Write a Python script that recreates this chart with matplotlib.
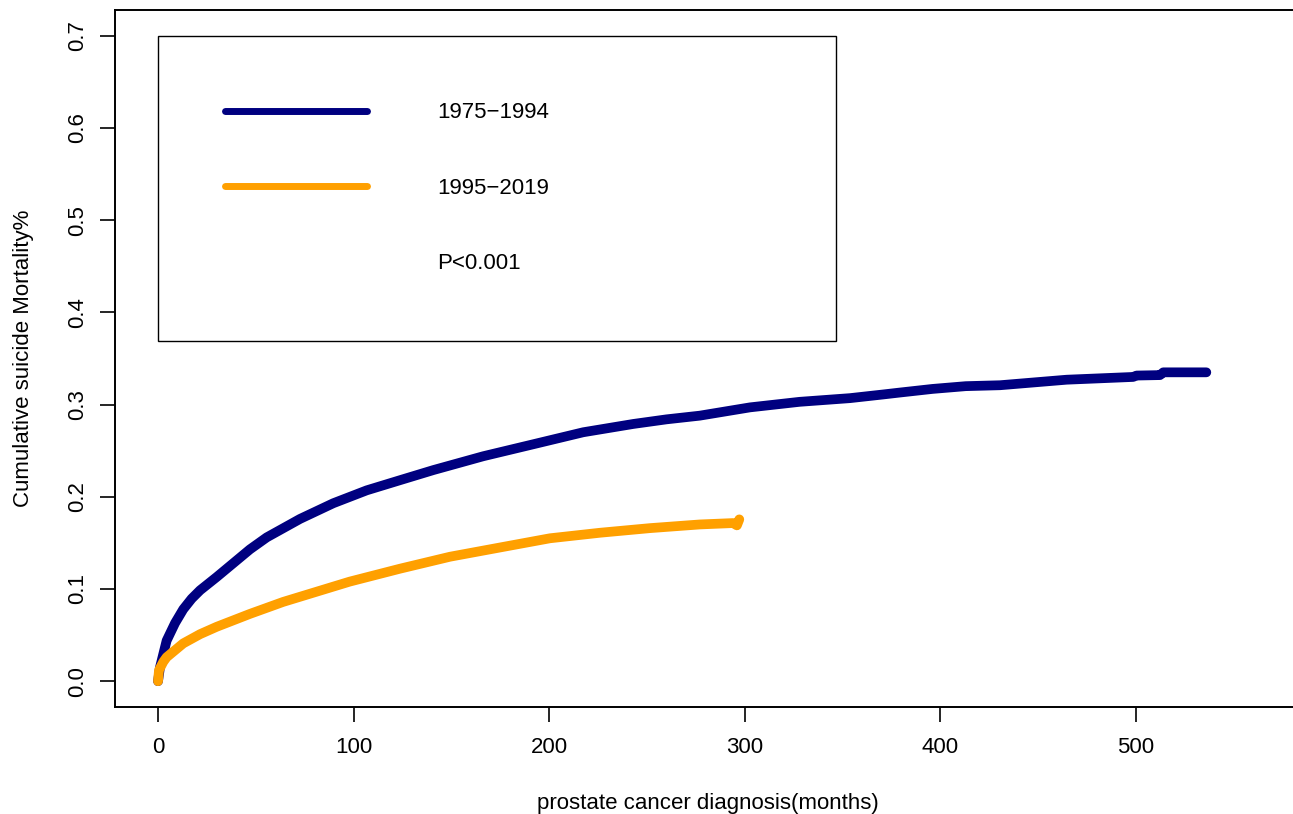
import matplotlib
matplotlib.use("Agg")
import matplotlib.pyplot as plt
from matplotlib.lines import Line2D

plt.rcParams['font.family'] = ['Liberation Sans', 'DejaVu Sans']

# cumulative incidence curves (months, %)
early_label = "1975\u22121994"
early_months = [0, 1, 4.4, 8.7, 12.9, 17.2, 21.5, 30, 38.5, 47, 55.6, 72.6, 89.6,
                106.7, 123.7, 140.8, 166.3, 191.9, 217.4, 243, 260, 277, 302.7,
                328, 353.8, 370.8, 379, 396, 413, 430.5, 464.6, 498.6, 500.3,
                512.3, 514, 536]
early_mort = [0.0, 0.015, 0.044, 0.063, 0.078, 0.0895, 0.0986, 0.113, 0.128,
              0.143, 0.156, 0.176, 0.193, 0.207, 0.218, 0.229, 0.244, 0.257,
              0.270, 0.279, 0.284, 0.288, 0.297, 0.303, 0.307, 0.311, 0.313,
              0.317, 0.320, 0.321, 0.327, 0.330, 0.3315, 0.332, 0.335, 0.335]

late_label = "1995\u22122019"
late_months = [0, 0.5, 2.7, 4.4, 12.9, 21.5, 30, 47, 64, 81, 98, 123.7, 149.3,
               174.8, 200.4, 226, 251.5, 277, 294, 296, 297.2]
late_mort = [0.0, 0.012, 0.021, 0.026, 0.041, 0.051, 0.059, 0.073, 0.086, 0.097,
             0.108, 0.122, 0.135, 0.145, 0.155, 0.161, 0.166, 0.170, 0.1715,
             0.169, 0.1755]

p_text = "P<0.001"
x_ticks = [0, 100, 200, 300, 400, 500]
y_ticks = [0.0, 0.1, 0.2, 0.3, 0.4, 0.5, 0.6, 0.7]

fig = plt.figure(figsize=(12.93, 8.14), dpi=100)
ax = fig.add_axes([115 / 1293, 107 / 814, (1300 - 115) / 1293, 697 / 814])

ax.plot(early_months, early_mort, color="#000080", lw=7,
        solid_capstyle="round", solid_joinstyle="round", label=early_label)
ax.plot(late_months, late_mort, color="#FFA000", lw=7,
        solid_capstyle="round", solid_joinstyle="round", label=late_label)

ax.set_xlim(-22.0, 583.9)
ax.set_ylim(-0.028, 0.728)
ax.set_xticks(x_ticks)
ax.set_yticks(y_ticks)
ax.set_yticklabels([f"{v:.1f}" for v in y_ticks])

for side in ["left", "bottom", "top", "right"]:
    ax.spines[side].set_linewidth(1.4)

ax.tick_params(axis="both", direction="out", length=10.5, width=1.2, labelsize=16)
ax.tick_params(axis="x", pad=11)
ax.tick_params(axis="y", pad=9, labelrotation=90)
for lab in ax.get_yticklabels():
    lab.set_va("center")

ax.set_xlabel("prostate cancer diagnosis(months)", fontsize=16, labelpad=25)
ax.set_ylabel("Cumulative suicide Mortality%", fontsize=16, labelpad=24)

handles, labels = ax.get_legend_handles_labels()
handles.append(Line2D([], [], color="none"))
labels.append(p_text)
leg = ax.legend(handles, labels, loc="upper left", mode="expand",
                bbox_to_anchor=(0, 0.3727, 346.6, 0.3273), bbox_transform=ax.transData,
                fontsize=16, handlelength=6.4, handletextpad=3.15, borderpad=3.0,
                labelspacing=2.45, borderaxespad=0, fancybox=False, framealpha=1,
                edgecolor="black")
leg.get_frame().set_linewidth(1.0)
for ln in leg.get_lines():
    ln.set_linewidth(5)

fig.savefig("out.png", dpi=100)
